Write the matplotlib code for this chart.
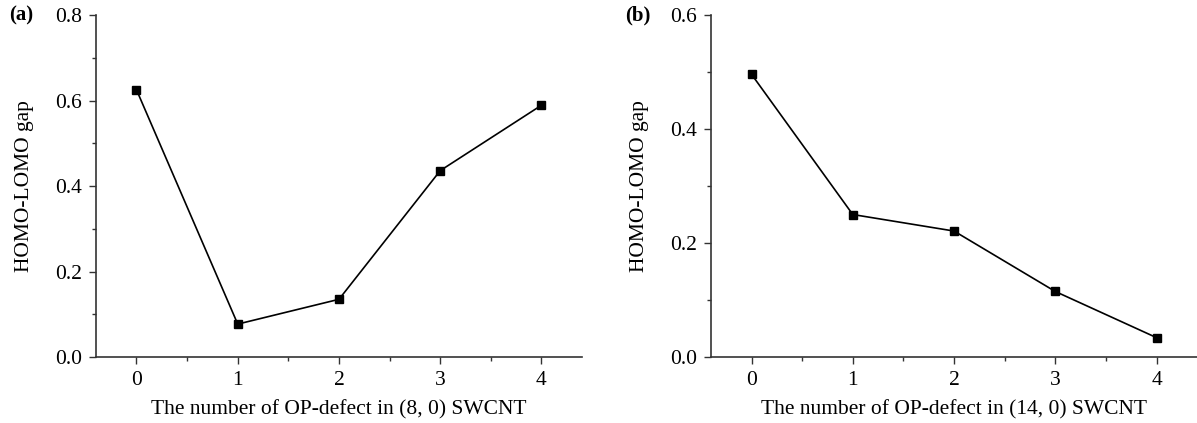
import matplotlib
matplotlib.use("Agg")
import matplotlib.pyplot as plt
from matplotlib.ticker import MultipleLocator

# data
n_defect = [0, 1, 2, 3, 4]
gap_8_0 = [0.625, 0.077, 0.135, 0.436, 0.589]
gap_14_0 = [0.496, 0.250, 0.221, 0.115, 0.034]

xlabels = ["The number of OP-defect in (8, 0) SWCNT",
           "The number of OP-defect in (14, 0) SWCNT"]
panels = ["(a)", "(b)"]
ylims = [0.8, 0.6]

plt.rcParams['font.family'] = ['Liberation Serif', 'DejaVu Serif']

fig = plt.figure(figsize=(11.97, 4.23), dpi=100)
ax1 = fig.add_axes([0.0802, 0.156, 0.406, 0.8085])
ax2 = fig.add_axes([0.594, 0.156, 0.406, 0.8085])

spine_col = '#333333'
for ax, ys, xl, ymax in zip([ax1, ax2], [gap_8_0, gap_14_0], xlabels, ylims):
    ax.plot(n_defect, ys, color='black', linewidth=1.2, marker='s',
            markersize=5.5, markerfacecolor='black', markeredgecolor='black',
            clip_on=False)
    ax.set_xlim(-0.4, 4.4)
    ax.set_ylim(0, ymax)
    ax.xaxis.set_major_locator(MultipleLocator(1))
    ax.xaxis.set_minor_locator(MultipleLocator(0.5))
    ax.yaxis.set_major_locator(MultipleLocator(0.2))
    ax.yaxis.set_minor_locator(MultipleLocator(0.1))
    ax.yaxis.set_major_formatter(matplotlib.ticker.FormatStrFormatter('%.1f'))
    for s in ['top', 'right']:
        ax.spines[s].set_visible(False)
    for s in ['left', 'bottom']:
        ax.spines[s].set_linewidth(1.2)
        ax.spines[s].set_color(spine_col)
    ax.tick_params(which='major', direction='out', length=5, width=1.0,
                   color=spine_col, labelsize=15.5, pad=5)
    ax.tick_params(which='minor', direction='out', length=3, width=1.0,
                   color=spine_col)
    ax.set_xlabel(xl, fontsize=15.5, labelpad=7)
    ax.set_ylabel("HOMO-LOMO gap", fontsize=15.5, labelpad=15)

fig.text(0.008, 0.964, panels[0], fontsize=15, fontweight='bold', va='center')
fig.text(0.522, 0.964, panels[1], fontsize=15, fontweight='bold', va='center')

fig.savefig("out.png", dpi=100)
